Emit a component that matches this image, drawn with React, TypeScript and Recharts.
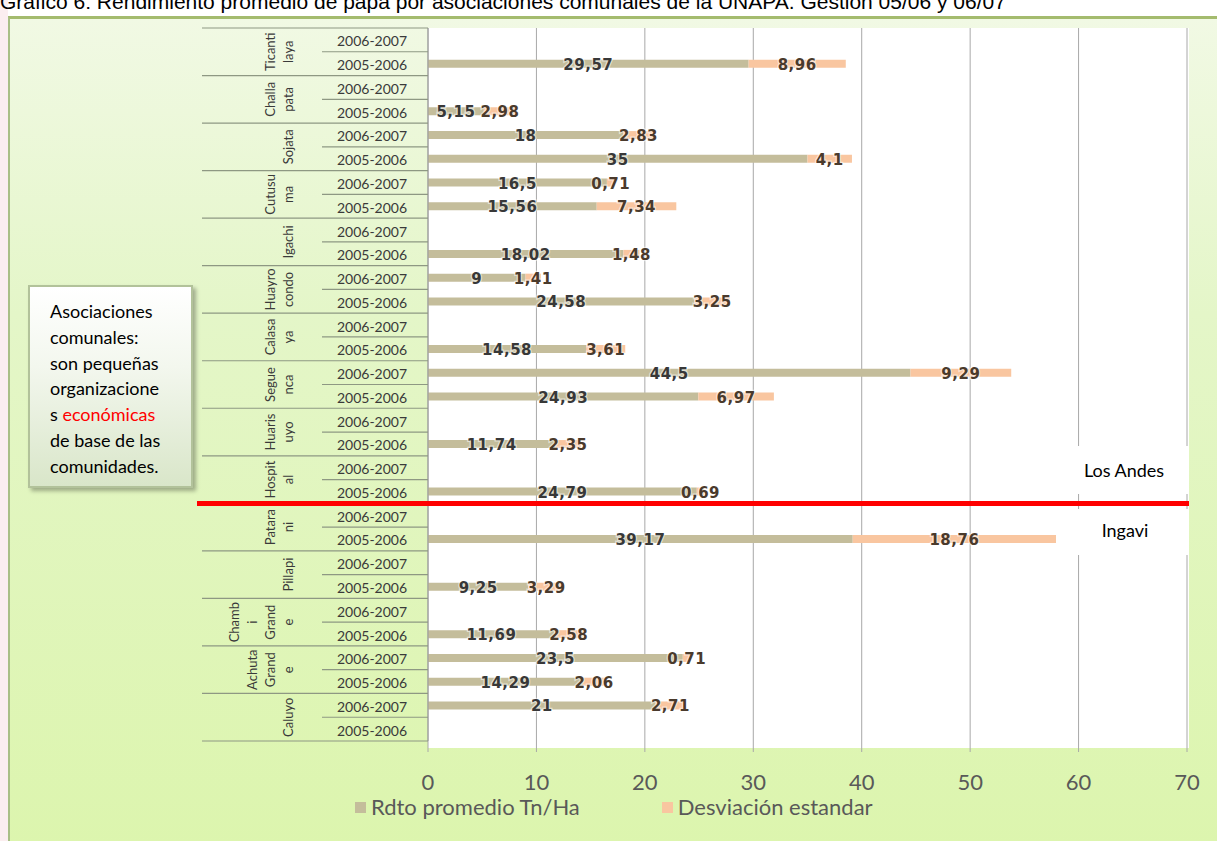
import React from 'react';
import { BarChart, Bar, XAxis, YAxis, CartesianGrid, LabelList, Legend } from 'recharts';

// Asociaciones comunales (nombre partido en líneas como en el original)
const groupNames: string[][] = [
  ['Ticanti', 'laya'],
  ['Challa', 'pata'],
  ['Sojata'],
  ['Cutusu', 'ma'],
  ['Igachi'],
  ['Huayro', 'condo'],
  ['Calasa', 'ya'],
  ['Segue', 'nca'],
  ['Huaris', 'uyo'],
  ['Hospit', 'al'],
  ['Patara', 'ni'],
  ['Pillapi'],
  ['Chamb', 'i', 'Grand', 'e'],
  ['Achuta', 'Grand', 'e'],
  ['Caluyo'],
];

const campaigns = ['2006-2007', '2005-2006'];

const rdto0607 = [null, null, 18, 16.5, null, 9, null, 44.5, null, null, null, null, null, 23.5, 21];
const desv0607 = [null, null, 2.83, 0.71, null, 1.41, null, 9.29, null, null, null, null, null, 0.71, 2.71];
const rdto0506 = [29.57, 5.15, 35, 15.56, 18.02, 24.58, 14.58, 24.93, 11.74, 24.79, 39.17, 9.25, 11.69, 14.29, null];
const desv0506 = [8.96, 2.98, 4.1, 7.34, 1.48, 3.25, 3.61, 6.97, 2.35, 0.69, 18.76, 3.29, 2.58, 2.06, null];

const xTicks = [0, 10, 20, 30, 40, 50, 60, 70];
const seriesNames = ['Rdto promedio Tn/Ha', 'Desviación estandar'];
const regionNames = ['Los Andes', 'Ingavi'];
const groupsInLosAndes = 10;

const title =
  'Gráfico 6: Rendimiento promedio de papa por asociaciones comunales de la UNAPA. Gestión 05/06 y 06/07';

const noteLines = ['Asociaciones', 'comunales:', 'son pequeñas', 'organizacione'];

const rows = groupNames.flatMap((g, gi) => [
  { key: `${gi}-0`, group: gi, camp: 0, label: campaigns[0], rdto: rdto0607[gi], desv: desv0607[gi] },
  { key: `${gi}-1`, group: gi, camp: 1, label: campaigns[1], rdto: rdto0506[gi], desv: desv0506[gi] },
]);

// layout
const W = 1217;
const H = 841;
const PLOT_L = 428;
const PLOT_R = 1187;
const PLOT_T = 28;
const PLOT_B = 741;
const BAND = (PLOT_B - PLOT_T) / rows.length;
const YEAR_X = 372;
const SHORT_X = 322;
const LONG_X = 202;
const GROUP_X = 288;
const GROUP_STEP = 18;
const SEP = '#8e9883';

const fmt = (v: number) => String(v).replace('.', ',');

const CategoryTick = (props: any) => {
  const { y, payload } = props;
  const row = rows.find((r) => r.key === payload.value);
  if (!row) return null;
  const half = BAND / 2;
  const first = row.camp === 0;
  const lines = groupNames[row.group];
  const yc = y + half;
  return (
    <g>
      <text
        x={YEAR_X}
        y={y + 1}
        textAnchor="middle"
        dominantBaseline="central"
        fontFamily="Lato"
        fontSize={14}
        fill="#3a3a3a"
      >
        {row.label}
      </text>
      {row.group === 0 && first && (
        <line x1={LONG_X} x2={PLOT_L} y1={y - half} y2={y - half} stroke={SEP} strokeWidth={1.2} />
      )}
      <line
        x1={first ? SHORT_X : LONG_X}
        x2={PLOT_L}
        y1={y + half}
        y2={y + half}
        stroke={SEP}
        strokeWidth={1.2}
      />
      {first &&
        lines.map((t, i) => {
          const cx = GROUP_X - (lines.length - 1 - i) * GROUP_STEP;
          return (
            <text
              key={i}
              x={cx}
              y={yc}
              transform={`rotate(-90 ${cx} ${yc})`}
              textAnchor="middle"
              dominantBaseline="central"
              fontFamily="Lato"
              fontSize={13}
              fill="#3a3a3a"
            >
              {t}
            </text>
          );
        })}
    </g>
  );
};

const ValueTick = (props: any) => {
  const { x, payload } = props;
  return (
    <text
      x={x}
      y={PLOT_B + 40}
      textAnchor="middle"
      dominantBaseline="central"
      fontFamily="Lato"
      fontSize={22}
      fill="#595959"
    >
      {payload.value}
    </text>
  );
};

const makeLabel = (color: string) => (p: any) => {
  const { x, y, width, height, value } = p;
  if (value == null || width == null) return null;
  return (
    <text
      x={x + width / 2}
      y={y + height / 2 + 1}
      textAnchor="middle"
      dominantBaseline="central"
      fontFamily="DejaVu Sans"
      fontWeight="bold"
      fontSize={15}
      letterSpacing={0.5}
      fill={color}
      stroke="rgba(255,255,255,0.55)"
      strokeWidth={2.5}
      paintOrder="stroke"
    >
      {fmt(value)}
    </text>
  );
};

const renderLegend = (props: any) => {
  const items = [...(props.payload || [])].sort(
    (a: any, b: any) => seriesNames.indexOf(a.value) - seriesNames.indexOf(b.value)
  );
  return (
    <div
      style={{
        display: 'flex',
        alignItems: 'center',
        fontFamily: 'Lato',
        fontSize: 22,
        lineHeight: '26px',
        color: '#595959',
        whiteSpace: 'nowrap',
      }}
    >
      {items.map((e: any, i: number) => (
        <div key={i} style={{ display: 'flex', alignItems: 'center', marginRight: i === 0 ? 82 : 0 }}>
          <span style={{ width: 11, height: 11, background: e.color, marginRight: 5, display: 'inline-block' }} />
          <span>{e.value}</span>
        </div>
      ))}
    </div>
  );
};

export default function App() {
  const splitY = PLOT_T + BAND * groupsInLosAndes * 2;
  return (
    <div
      style={{
        position: 'absolute',
        left: 0,
        top: 0,
        width: W,
        height: H,
        overflow: 'hidden',
        background: '#ffffff',
      }}
    >
      <div style={{ position: 'absolute', left: 0, top: 0, width: 8, height: H, background: '#fbeef0' }} />
      <div
        style={{
          position: 'absolute',
          left: 8,
          top: 16,
          width: W,
          height: H,
          borderLeft: '2px solid #a9bf86',
          borderTop: '3px solid #a4bb6e',
          background: 'linear-gradient(180deg, #f1f9e4 0%, #e4f6c8 35%, #dcf5ad 100%)',
        }}
      />
      <div
        style={{
          position: 'absolute',
          left: 0,
          top: -8,
          fontFamily: 'Liberation Sans',
          fontSize: 21,
          lineHeight: '20px',
          color: '#000',
          whiteSpace: 'nowrap',
        }}
      >
        {title}
      </div>
      <div
        style={{
          position: 'absolute',
          left: PLOT_L,
          top: PLOT_T,
          width: PLOT_R - PLOT_L + 2,
          height: PLOT_B - PLOT_T + 7,
          background: '#ffffff',
        }}
      />
      <div style={{ position: 'absolute', left: 0, top: 0 }}>
        <BarChart
          width={W}
          height={H}
          layout="vertical"
          data={rows}
          barSize={8}
          margin={{ top: PLOT_T, right: W - PLOT_R, bottom: 50, left: 0 }}
        >
          <CartesianGrid horizontal={false} vertical stroke="#a8a8a8" />
          <XAxis
            type="number"
            domain={[0, 70]}
            ticks={xTicks}
            interval={0}
            height={H - PLOT_B - 50}
            axisLine={false}
            tickLine={{ stroke: '#a8a8a8' }}
            tickSize={11}
            tick={<ValueTick />}
          />
          <YAxis
            type="category"
            dataKey="key"
            width={PLOT_L}
            interval={0}
            axisLine={{ stroke: '#9a9a9a' }}
            tickLine={false}
            tick={<CategoryTick />}
          />
          <Legend
            layout="vertical"
            align="center"
            verticalAlign="middle"
            content={renderLegend}
            wrapperStyle={{ left: 355, top: 794, width: 560, height: 28 }}
          />
          <Bar dataKey="rdto" name={seriesNames[0]} stackId="a" fill="#c4bd9b" isAnimationActive={false}>
            <LabelList dataKey="rdto" content={makeLabel('#383838')} />
          </Bar>
          <Bar dataKey="desv" name={seriesNames[1]} stackId="a" fill="#f9c6a0" isAnimationActive={false}>
            <LabelList dataKey="desv" content={makeLabel('#4a3a2c')} />
          </Bar>
        </BarChart>
      </div>

      <div
        style={{
          position: 'absolute',
          left: 28,
          top: 285,
          width: 165,
          height: 203,
          border: '2px solid #b2c29a',
          background: 'linear-gradient(180deg, #ffffff 0%, #f3f7ee 40%, #d9e6c9 100%)',
          boxShadow: '3px 3px 4px rgba(0,0,0,0.3)',
          fontFamily: 'Lato',
          fontSize: 18,
          lineHeight: '25.8px',
          color: '#000',
          padding: '12px 0 0 20px',
          boxSizing: 'border-box',
          whiteSpace: 'nowrap',
        }}
      >
        {noteLines.map((l, i) => (
          <div key={i}>{l}</div>
        ))}
        <div>
          s <span style={{ color: '#ff0000' }}>económicas</span>
        </div>
        <div>de base de las</div>
        <div>comunidades.</div>
      </div>

      <div
        style={{
          position: 'absolute',
          left: 1056,
          top: 446,
          width: PLOT_R - 1056 + 1,
          height: splitY - 446 - 9,
          background: '#ffffff',
          fontFamily: 'Lato',
          fontSize: 18,
          display: 'flex',
          alignItems: 'center',
          justifyContent: 'center',
          paddingLeft: 4,
          boxSizing: 'border-box',
        }}
      >
        {regionNames[0]}
      </div>
      <div
        style={{
          position: 'absolute',
          left: 1056,
          top: splitY + 6,
          width: PLOT_R - 1056 + 1,
          height: 46,
          background: '#ffffff',
          fontFamily: 'Lato',
          fontSize: 18,
          display: 'flex',
          alignItems: 'center',
          justifyContent: 'center',
          paddingLeft: 6,
          paddingBottom: 4,
          boxSizing: 'border-box',
        }}
      >
        {regionNames[1]}
      </div>
      <div
        style={{
          position: 'absolute',
          left: 197,
          top: splitY - 2.5,
          width: PLOT_R + 2 - 197,
          height: 5,
          background: '#ff0000',
        }}
      />
    </div>
  );
}
